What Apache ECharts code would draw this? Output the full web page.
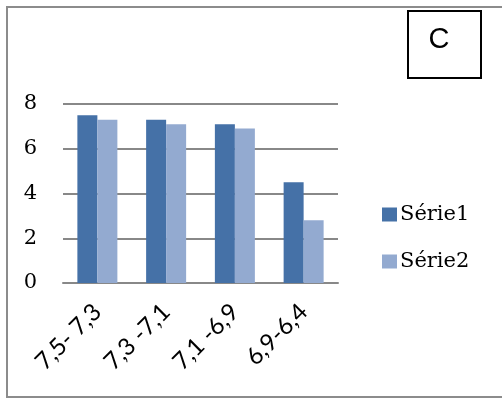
<!DOCTYPE html>
<html>
<head>
<meta charset="utf-8">
<script src="https://cdn.jsdelivr.net/npm/echarts@6/dist/echarts.min.js"></script>
<style>
  html, body { margin: 0; padding: 0; background: #ffffff; }
  #chart { width: 502px; height: 399px; }
</style>
</head>
<body>
<div id="chart"></div>
<script>
// pH ranges on the category axis
const categories = ['7,5- 7,3', '7,3 -7,1', '7,1 -6,9', '6,9-6,4'];
// Values per series
const serie1 = [7.5, 7.3, 7.1, 4.5];
const serie2 = [7.3, 7.1, 6.9, 2.8];
// Value axis range
const yMin = 0;
const yMax = 8;
const yStep = 2;

const chart = echarts.init(document.getElementById('chart'), null, { renderer: 'canvas' });

chart.setOption({
  animation: false,
  backgroundColor: '#ffffff',
  grid: { left: 63, right: 164, top: 104, bottom: 116, containLabel: false },
  legend: {
    orient: 'vertical',
    left: 377,
    top: 198,
    itemWidth: 15,
    itemHeight: 14,
    itemGap: 24,
    icon: 'rect',
    textStyle: { fontFamily: 'DejaVu Serif', fontSize: 21, color: '#000', lineHeight: 23, padding: [0, 0, 0, -2] },
    data: ['Série1', 'Série2']
  },
  xAxis: {
    type: 'category',
    data: categories,
    axisLine: { show: true, lineStyle: { color: '#888', width: 2 } },
    axisTick: { show: false },
    axisLabel: {
      rotate: 45,
      interval: 0,
      margin: 25,
      fontFamily: 'Lato',
      fontSize: 24,
      color: '#000'
    }
  },
  yAxis: {
    type: 'value',
    min: yMin,
    max: yMax,
    interval: yStep,
    axisLine: { show: false },
    axisTick: { show: false },
    splitLine: { lineStyle: { color: '#888', width: 2 } },
    axisLabel: {
      margin: 26,
      fontFamily: 'DejaVu Serif',
      fontSize: 21,
      color: '#000'
    }
  },
  series: [
    {
      name: 'Série1',
      type: 'bar',
      data: serie1,
      barWidth: 20,
      barGap: '0%',
      itemStyle: { color: '#4571A7' }
    },
    {
      name: 'Série2',
      type: 'bar',
      data: serie2,
      barWidth: 20,
      barGap: '0%',
      itemStyle: { color: '#93AAD0' }
    }
  ],
  graphic: [
    {
      type: 'rect',
      shape: { x: 7, y: 7, width: 600, height: 390 },
      style: { fill: 'none', stroke: '#8c8c8c', lineWidth: 2 },
      silent: true
    },
    {
      type: 'rect',
      shape: { x: 408, y: 11, width: 73, height: 67 },
      style: { fill: '#ffffff', stroke: '#000000', lineWidth: 2 },
      silent: true
    },
    {
      type: 'text',
      x: 439,
      y: 40,
      style: {
        text: 'C',
        fontFamily: 'Liberation Sans',
        fontSize: 29,
        fill: '#000',
        align: 'center',
        verticalAlign: 'middle'
      },
      silent: true
    }
  ]
});
</script>
</body>
</html>
